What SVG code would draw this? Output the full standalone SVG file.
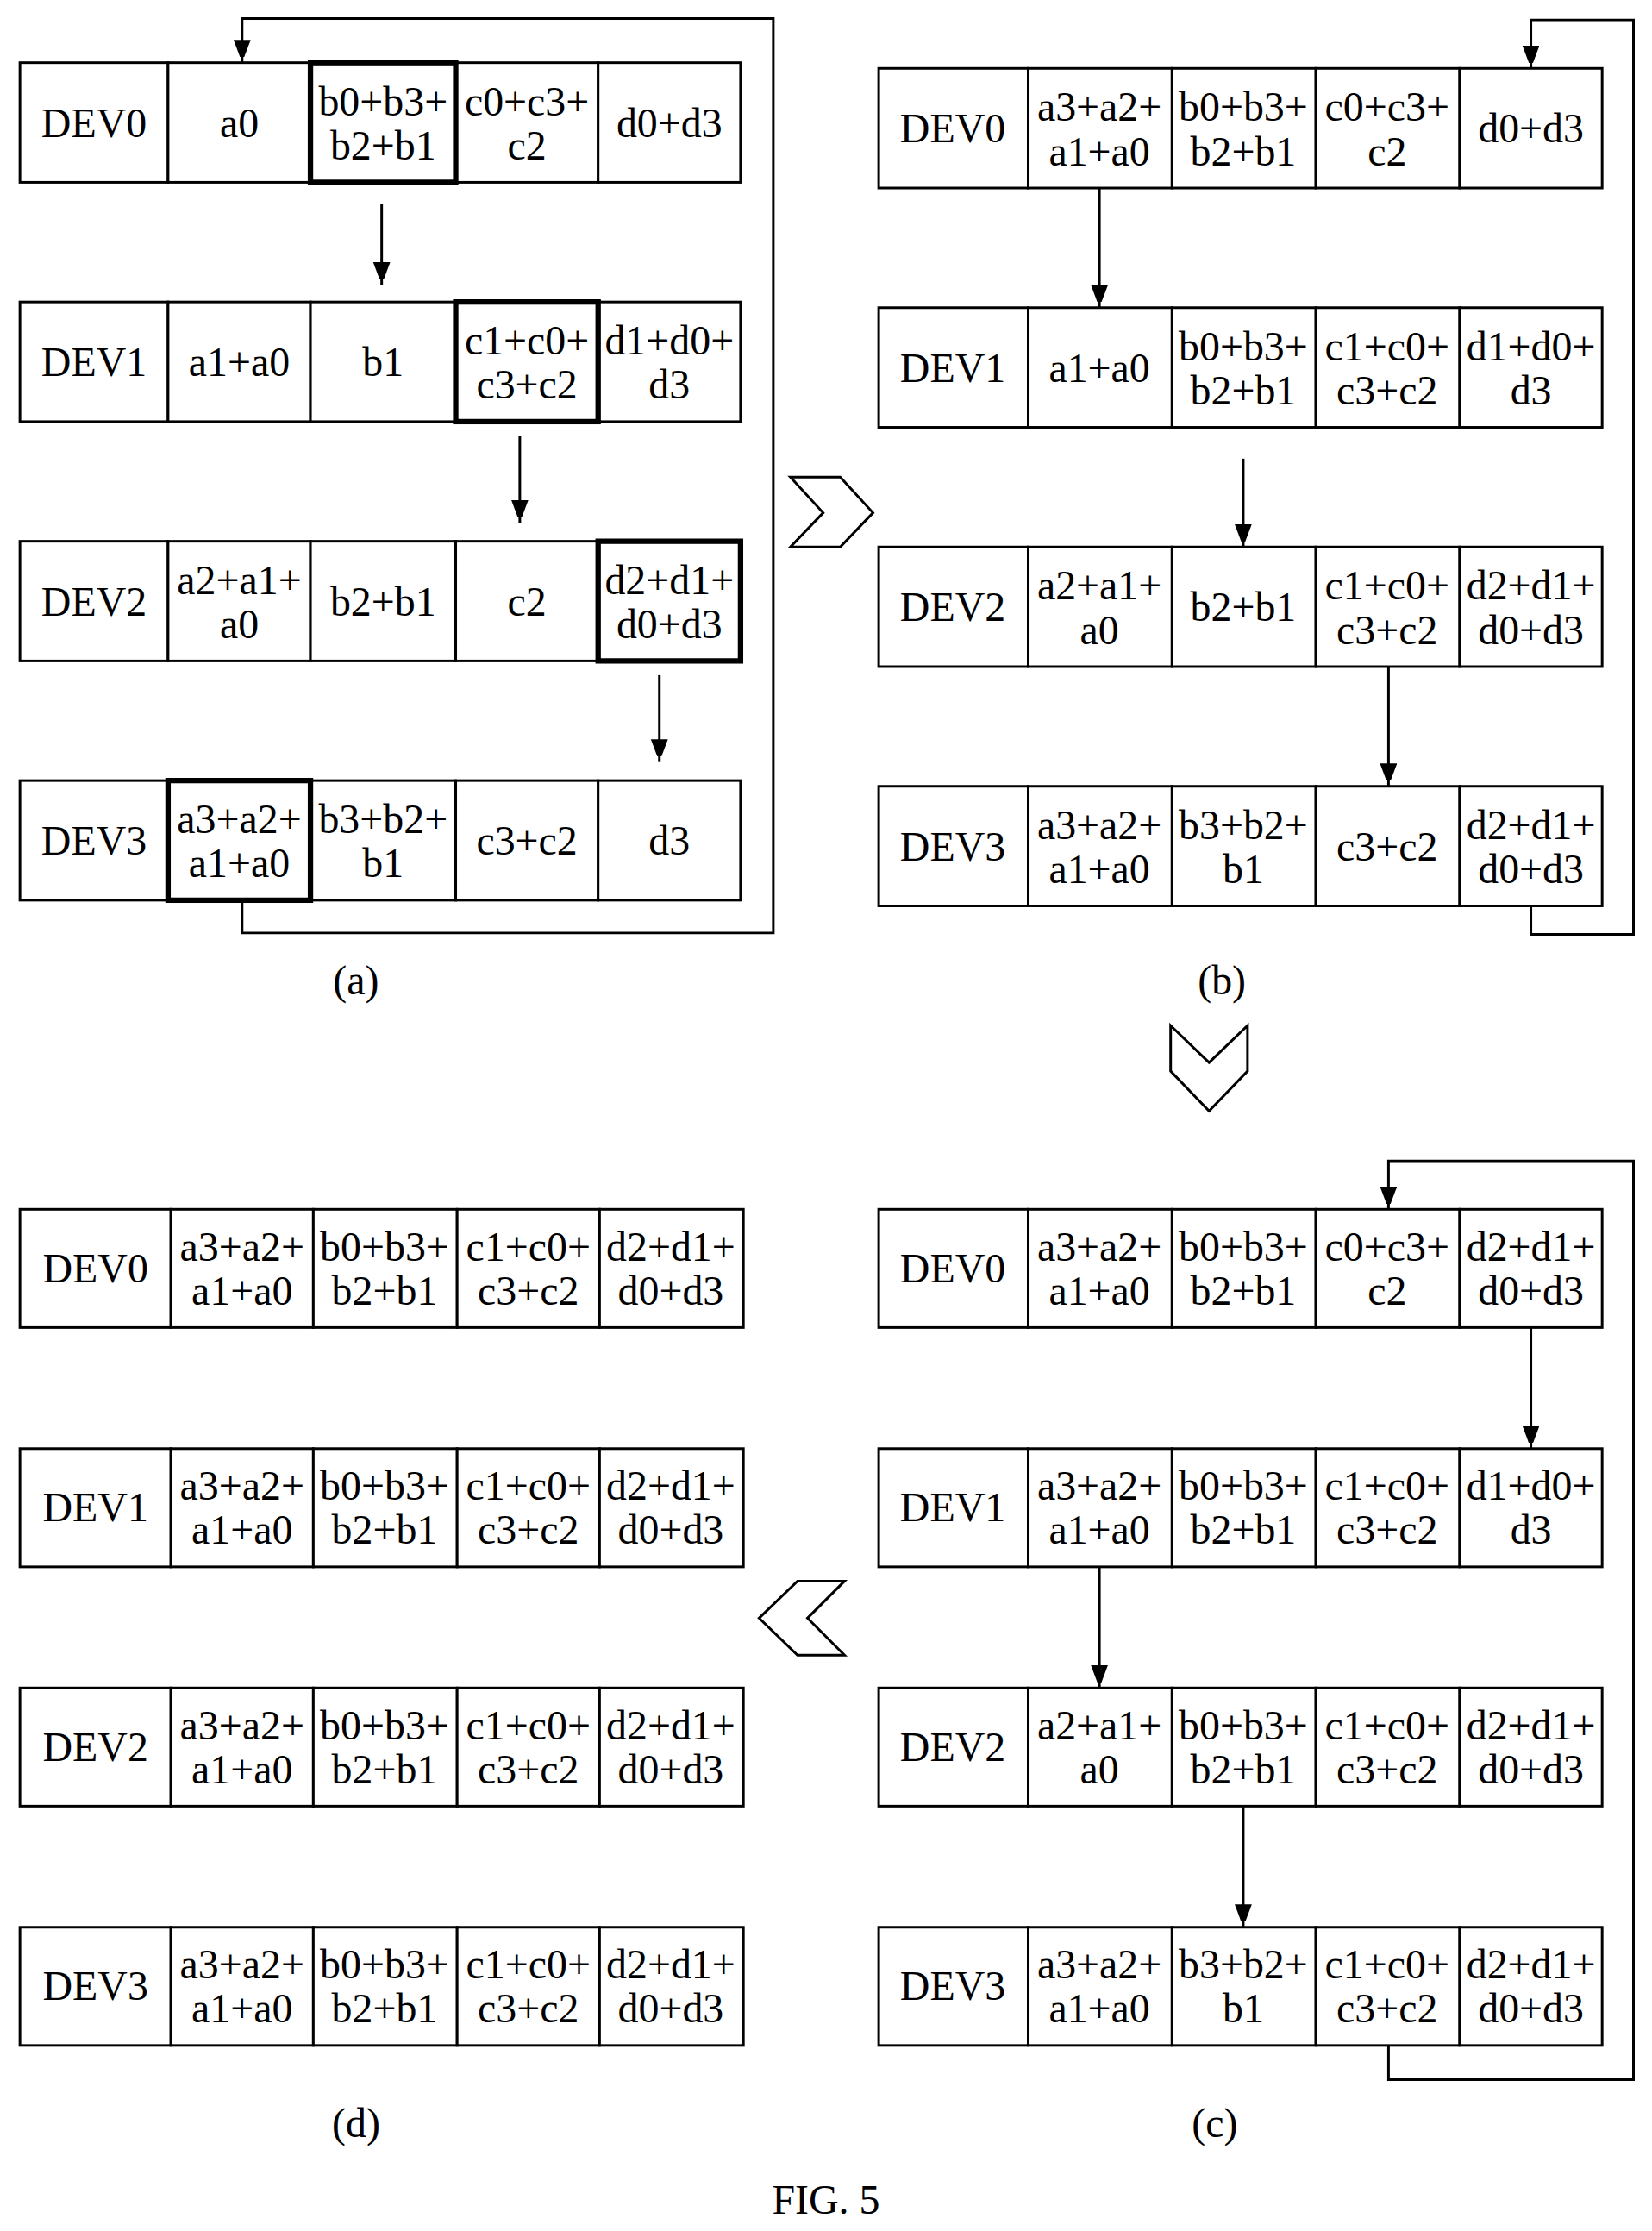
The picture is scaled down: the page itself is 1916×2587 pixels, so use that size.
<svg xmlns="http://www.w3.org/2000/svg" width="1916" height="2587" viewBox="0 0 1916 2587">
<style>
.c{fill:#fff;stroke:#000;stroke-width:1.8}
.k{fill:none;stroke:#000;stroke-width:3.8}
.l{fill:none;stroke:#000;stroke-width:1.8}
text{font-family:"Liberation Serif","Times New Roman",serif;font-size:29px;text-anchor:middle;fill:#000}
</style>
<defs><marker id="ah" markerWidth="12" markerHeight="16" refX="16" refY="6" orient="auto" markerUnits="userSpaceOnUse"><path d="M0,0 L16,6 L0,12 z" fill="#000"/></marker></defs>
<rect width="1916" height="2587" fill="#fff"/>
<g transform="scale(1.6517)">
<g id="panel-a">
<g id="a0"><rect class="c" x="14" y="44" width="104" height="84"/><rect class="c" x="118" y="44" width="100" height="84"/><rect class="c" x="218" y="44" width="102" height="84"/><rect class="c" x="320" y="44" width="100" height="84"/><rect class="c" x="420" y="44" width="100" height="84"/><rect class="k" x="218" y="44" width="102" height="84"/>
<text x="66" y="96">DEV0</text><text x="168" y="96">a0</text><text x="269" y="81">b0+b3+</text><text x="269" y="112">b2+b1</text><text x="370" y="81">c0+c3+</text><text x="370" y="112">c2</text><text x="470" y="96">d0+d3</text></g>
<g id="a1"><rect class="c" x="14" y="212" width="104" height="84"/><rect class="c" x="118" y="212" width="100" height="84"/><rect class="c" x="218" y="212" width="102" height="84"/><rect class="c" x="320" y="212" width="100" height="84"/><rect class="c" x="420" y="212" width="100" height="84"/><rect class="k" x="320" y="212" width="100" height="84"/>
<text x="66" y="264">DEV1</text><text x="168" y="264">a1+a0</text><text x="269" y="264">b1</text><text x="370" y="249">c1+c0+</text><text x="370" y="280">c3+c2</text><text x="470" y="249">d1+d0+</text><text x="470" y="280">d3</text></g>
<g id="a2"><rect class="c" x="14" y="380" width="104" height="84"/><rect class="c" x="118" y="380" width="100" height="84"/><rect class="c" x="218" y="380" width="102" height="84"/><rect class="c" x="320" y="380" width="100" height="84"/><rect class="c" x="420" y="380" width="100" height="84"/><rect class="k" x="420" y="380" width="100" height="84"/>
<text x="66" y="432">DEV2</text><text x="168" y="417">a2+a1+</text><text x="168" y="448">a0</text><text x="269" y="432">b2+b1</text><text x="370" y="432">c2</text><text x="470" y="417">d2+d1+</text><text x="470" y="448">d0+d3</text></g>
<g id="a3"><rect class="c" x="14" y="548" width="104" height="84"/><rect class="c" x="118" y="548" width="100" height="84"/><rect class="c" x="218" y="548" width="102" height="84"/><rect class="c" x="320" y="548" width="100" height="84"/><rect class="c" x="420" y="548" width="100" height="84"/><rect class="k" x="118" y="548" width="100" height="84"/>
<text x="66" y="600">DEV3</text><text x="168" y="585">a3+a2+</text><text x="168" y="616">a1+a0</text><text x="269" y="585">b3+b2+</text><text x="269" y="616">b1</text><text x="370" y="600">c3+c2</text><text x="470" y="600">d3</text></g>
<text x="250" y="698">(a)</text>
</g>
<g id="panel-b">
<g id="b0"><rect class="c" x="617" y="48" width="105" height="84"/><rect class="c" x="722" y="48" width="101" height="84"/><rect class="c" x="823" y="48" width="101" height="84"/><rect class="c" x="924" y="48" width="101" height="84"/><rect class="c" x="1025" y="48" width="100" height="84"/>
<text x="669" y="100">DEV0</text><text x="772" y="85">a3+a2+</text><text x="772" y="116">a1+a0</text><text x="873" y="85">b0+b3+</text><text x="873" y="116">b2+b1</text><text x="974" y="85">c0+c3+</text><text x="974" y="116">c2</text><text x="1075" y="100">d0+d3</text></g>
<g id="b1"><rect class="c" x="617" y="216" width="105" height="84"/><rect class="c" x="722" y="216" width="101" height="84"/><rect class="c" x="823" y="216" width="101" height="84"/><rect class="c" x="924" y="216" width="101" height="84"/><rect class="c" x="1025" y="216" width="100" height="84"/>
<text x="669" y="268">DEV1</text><text x="772" y="268">a1+a0</text><text x="873" y="253">b0+b3+</text><text x="873" y="284">b2+b1</text><text x="974" y="253">c1+c0+</text><text x="974" y="284">c3+c2</text><text x="1075" y="253">d1+d0+</text><text x="1075" y="284">d3</text></g>
<g id="b2"><rect class="c" x="617" y="384" width="105" height="84"/><rect class="c" x="722" y="384" width="101" height="84"/><rect class="c" x="823" y="384" width="101" height="84"/><rect class="c" x="924" y="384" width="101" height="84"/><rect class="c" x="1025" y="384" width="100" height="84"/>
<text x="669" y="436">DEV2</text><text x="772" y="421">a2+a1+</text><text x="772" y="452">a0</text><text x="873" y="436">b2+b1</text><text x="974" y="421">c1+c0+</text><text x="974" y="452">c3+c2</text><text x="1075" y="421">d2+d1+</text><text x="1075" y="452">d0+d3</text></g>
<g id="b3"><rect class="c" x="617" y="552" width="105" height="84"/><rect class="c" x="722" y="552" width="101" height="84"/><rect class="c" x="823" y="552" width="101" height="84"/><rect class="c" x="924" y="552" width="101" height="84"/><rect class="c" x="1025" y="552" width="100" height="84"/>
<text x="669" y="604">DEV3</text><text x="772" y="589">a3+a2+</text><text x="772" y="620">a1+a0</text><text x="873" y="589">b3+b2+</text><text x="873" y="620">b1</text><text x="974" y="604">c3+c2</text><text x="1075" y="589">d2+d1+</text><text x="1075" y="620">d0+d3</text></g>
<text x="858" y="698">(b)</text>
</g>
<g id="panel-c">
<g id="c0"><rect class="c" x="617" y="849" width="105" height="83"/><rect class="c" x="722" y="849" width="101" height="83"/><rect class="c" x="823" y="849" width="101" height="83"/><rect class="c" x="924" y="849" width="101" height="83"/><rect class="c" x="1025" y="849" width="100" height="83"/>
<text x="669" y="900">DEV0</text><text x="772" y="885">a3+a2+</text><text x="772" y="916">a1+a0</text><text x="873" y="885">b0+b3+</text><text x="873" y="916">b2+b1</text><text x="974" y="885">c0+c3+</text><text x="974" y="916">c2</text><text x="1075" y="885">d2+d1+</text><text x="1075" y="916">d0+d3</text></g>
<g id="c1"><rect class="c" x="617" y="1017" width="105" height="83"/><rect class="c" x="722" y="1017" width="101" height="83"/><rect class="c" x="823" y="1017" width="101" height="83"/><rect class="c" x="924" y="1017" width="101" height="83"/><rect class="c" x="1025" y="1017" width="100" height="83"/>
<text x="669" y="1068">DEV1</text><text x="772" y="1053">a3+a2+</text><text x="772" y="1084">a1+a0</text><text x="873" y="1053">b0+b3+</text><text x="873" y="1084">b2+b1</text><text x="974" y="1053">c1+c0+</text><text x="974" y="1084">c3+c2</text><text x="1075" y="1053">d1+d0+</text><text x="1075" y="1084">d3</text></g>
<g id="c2"><rect class="c" x="617" y="1185" width="105" height="83"/><rect class="c" x="722" y="1185" width="101" height="83"/><rect class="c" x="823" y="1185" width="101" height="83"/><rect class="c" x="924" y="1185" width="101" height="83"/><rect class="c" x="1025" y="1185" width="100" height="83"/>
<text x="669" y="1236">DEV2</text><text x="772" y="1221">a2+a1+</text><text x="772" y="1252">a0</text><text x="873" y="1221">b0+b3+</text><text x="873" y="1252">b2+b1</text><text x="974" y="1221">c1+c0+</text><text x="974" y="1252">c3+c2</text><text x="1075" y="1221">d2+d1+</text><text x="1075" y="1252">d0+d3</text></g>
<g id="c3"><rect class="c" x="617" y="1353" width="105" height="83"/><rect class="c" x="722" y="1353" width="101" height="83"/><rect class="c" x="823" y="1353" width="101" height="83"/><rect class="c" x="924" y="1353" width="101" height="83"/><rect class="c" x="1025" y="1353" width="100" height="83"/>
<text x="669" y="1404">DEV3</text><text x="772" y="1389">a3+a2+</text><text x="772" y="1420">a1+a0</text><text x="873" y="1389">b3+b2+</text><text x="873" y="1420">b1</text><text x="974" y="1389">c1+c0+</text><text x="974" y="1420">c3+c2</text><text x="1075" y="1389">d2+d1+</text><text x="1075" y="1420">d0+d3</text></g>
<text x="853" y="1500">(c)</text>
</g>
<g id="panel-d">
<g id="d0"><rect class="c" x="14" y="849" width="106" height="83"/><rect class="c" x="120" y="849" width="100" height="83"/><rect class="c" x="220" y="849" width="101" height="83"/><rect class="c" x="321" y="849" width="100" height="83"/><rect class="c" x="421" y="849" width="101" height="83"/>
<text x="67" y="900">DEV0</text><text x="170" y="885">a3+a2+</text><text x="170" y="916">a1+a0</text><text x="270" y="885">b0+b3+</text><text x="270" y="916">b2+b1</text><text x="371" y="885">c1+c0+</text><text x="371" y="916">c3+c2</text><text x="471" y="885">d2+d1+</text><text x="471" y="916">d0+d3</text></g>
<g id="d1"><rect class="c" x="14" y="1017" width="106" height="83"/><rect class="c" x="120" y="1017" width="100" height="83"/><rect class="c" x="220" y="1017" width="101" height="83"/><rect class="c" x="321" y="1017" width="100" height="83"/><rect class="c" x="421" y="1017" width="101" height="83"/>
<text x="67" y="1068">DEV1</text><text x="170" y="1053">a3+a2+</text><text x="170" y="1084">a1+a0</text><text x="270" y="1053">b0+b3+</text><text x="270" y="1084">b2+b1</text><text x="371" y="1053">c1+c0+</text><text x="371" y="1084">c3+c2</text><text x="471" y="1053">d2+d1+</text><text x="471" y="1084">d0+d3</text></g>
<g id="d2"><rect class="c" x="14" y="1185" width="106" height="83"/><rect class="c" x="120" y="1185" width="100" height="83"/><rect class="c" x="220" y="1185" width="101" height="83"/><rect class="c" x="321" y="1185" width="100" height="83"/><rect class="c" x="421" y="1185" width="101" height="83"/>
<text x="67" y="1236">DEV2</text><text x="170" y="1221">a3+a2+</text><text x="170" y="1252">a1+a0</text><text x="270" y="1221">b0+b3+</text><text x="270" y="1252">b2+b1</text><text x="371" y="1221">c1+c0+</text><text x="371" y="1252">c3+c2</text><text x="471" y="1221">d2+d1+</text><text x="471" y="1252">d0+d3</text></g>
<g id="d3"><rect class="c" x="14" y="1353" width="106" height="83"/><rect class="c" x="120" y="1353" width="100" height="83"/><rect class="c" x="220" y="1353" width="101" height="83"/><rect class="c" x="321" y="1353" width="100" height="83"/><rect class="c" x="421" y="1353" width="101" height="83"/>
<text x="67" y="1404">DEV3</text><text x="170" y="1389">a3+a2+</text><text x="170" y="1420">a1+a0</text><text x="270" y="1389">b0+b3+</text><text x="270" y="1420">b2+b1</text><text x="371" y="1389">c1+c0+</text><text x="371" y="1420">c3+c2</text><text x="471" y="1389">d2+d1+</text><text x="471" y="1420">d0+d3</text></g>
<text x="250" y="1500">(d)</text>
</g>
<g id="connectors">
<path class="l" d="M170,632 V655 H543 V13 H170 V44" marker-end="url(#ah)"/>
<path class="l" d="M268,143 V200" marker-end="url(#ah)"/>
<path class="l" d="M365,306 V367" marker-end="url(#ah)"/>
<path class="l" d="M463,474 V535" marker-end="url(#ah)"/>
<path class="l" d="M1075,636 V656 H1147 V14 H1075 V48" marker-end="url(#ah)"/>
<path class="l" d="M772,132 V216" marker-end="url(#ah)"/>
<path class="l" d="M873,322 V384" marker-end="url(#ah)"/>
<path class="l" d="M975,468 V552" marker-end="url(#ah)"/>
<path class="l" d="M975,1436 V1460 H1147 V815 H975 V849" marker-end="url(#ah)"/>
<path class="l" d="M1075,932 V1017" marker-end="url(#ah)"/>
<path class="l" d="M772,1100 V1185" marker-end="url(#ah)"/>
<path class="l" d="M873,1268 V1353" marker-end="url(#ah)"/>
</g>
<g id="chevrons">
<polygon class="l" points="555,335 590,335 613,360 590,384 555,384 578,360"/>
<polygon class="l" points="822,720 849,746 876,720 876,752 849,780 822,752"/>
<polygon class="l" points="593,1110 560,1110 533,1136 560,1162 593,1162 567,1136"/>
</g>
<text x="580" y="1554">FIG. 5</text>
</g>
</svg>
